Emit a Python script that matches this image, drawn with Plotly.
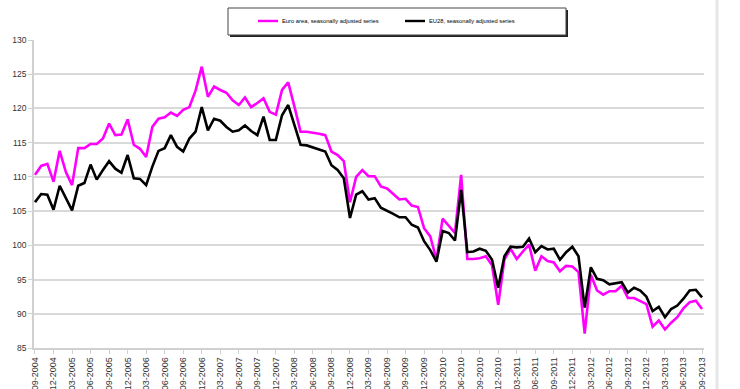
import plotly.graph_objects as go

# ---- data ----
months = [f"{m:02d}-{y}" for y in range(2004, 2014) for m in range(1, 13)]
months = months[months.index("09-2004"):months.index("09-2013") + 1]

tick_labels = [
    "09-2004", "12-2004", "03-2005", "06-2005", "09-2005", "12-2005",
    "03-2006", "06-2006", "09-2006", "12-2006", "03-2007", "06-2007",
    "09-2007", "12-2007", "03-2008", "06-2008", "09-2008", "12-2008",
    "03-2009", "06-2009", "09-2009", "12-2009", "03-2010", "06-2010",
    "09-2010", "12-2010", "03-2011", "06-2011", "09-2011", "12-2011",
    "03-2012", "06-2012", "09-2012", "12-2012", "03-2013", "06-2013",
    "09-2013",
]

euro_area = [
    110.3, 111.6, 111.9, 109.3, 113.8, 110.7, 108.8, 114.2, 114.2, 114.8,
    114.8, 115.6, 117.8, 116.1, 116.2, 118.4, 114.7, 114.1, 112.9, 117.3,
    118.5, 118.7, 119.4, 118.9, 119.8, 120.2, 122.6, 126.1,
    121.7, 123.2, 122.7, 122.3, 121.2, 120.5, 121.6, 120.2, 120.8, 121.5,
    119.5, 119.1, 122.7, 123.8, 120.3, 116.6, 116.6, 116.5, 116.3, 116.1,
    113.7, 113.2, 112.3, 106.3, 110.0, 111.0, 110.1, 110.1,
    108.6, 108.3, 107.5, 106.7, 106.8, 105.8, 105.6, 102.5, 101.3, 97.9,
    103.9, 102.8, 101.8, 110.3, 98.0, 98.0, 98.1, 98.4, 97.1, 91.3,
    97.9, 99.5, 98.0, 99.1, 100.1, 96.3, 98.4,
    97.7, 97.5, 96.2, 97.0, 96.9, 96.1, 87.1, 95.7, 93.4, 92.8,
    93.3, 93.3, 94.1, 92.3, 92.3, 91.9, 91.4, 88.1, 89.0, 87.7,
    88.7, 89.5, 90.8, 91.7, 91.9, 90.7,
]

eu28 = [
    106.3, 107.5, 107.4, 105.2, 108.7, 106.8, 105.1, 108.7, 109.1, 111.8,
    109.6, 111.0, 112.3, 111.2, 110.6, 113.2, 109.8, 109.7, 108.8, 111.5,
    113.8, 114.2, 116.1, 114.4, 113.7, 115.6, 116.6, 120.2,
    116.8, 118.5, 118.2, 117.3, 116.6, 116.8, 117.5, 116.7, 116.1, 118.8,
    115.4, 115.4, 119.0, 120.5, 117.6, 114.7, 114.6, 114.3, 113.9, 113.7,
    111.7, 111.0, 109.8, 104.0, 107.4, 107.9, 106.7, 106.9,
    105.5, 105.1, 104.6, 104.1, 104.1, 103.0, 102.6, 100.6, 99.3, 97.6,
    102.1, 101.8, 100.7, 108.1, 99.0, 99.1, 99.5, 99.2, 97.9, 93.8,
    98.4, 99.8, 99.7, 99.8, 101.0, 99.0, 99.9,
    99.4, 99.5, 97.9, 99.0, 99.8, 98.4, 90.9, 96.8, 95.1, 94.9,
    94.3, 94.4, 94.6, 93.1, 93.8, 93.4, 92.5, 90.4, 91.0, 89.5,
    90.7, 91.2, 92.2, 93.4, 93.5, 92.4,
]

series_names = ["Euro area, seasonally adjusted series", "EU28, seasonally adjusted series"]
y_ticks = [85, 90, 95, 100, 105, 110, 115, 120, 125, 130]

# ---- layout geometry (pixels) ----
W, H = 740, 389
L, R, T, B = 34, 36, 40, 41
PW, PH = W - L - R, H - T - B


def px(xp):
    return (xp - L) / PW


def py(yp):
    return (H - B - yp) / PH


fig = go.Figure()
fig.add_trace(go.Scatter(x=months, y=euro_area, mode="lines", name=series_names[0],
                         line=dict(color="#FF00FF", width=2.6), showlegend=False))
fig.add_trace(go.Scatter(x=months, y=eu28, mode="lines", name=series_names[1],
                         line=dict(color="#000000", width=2.6), showlegend=False))

font_family = "Liberation Sans, Arial, sans-serif"

fig.update_layout(
    width=W, height=H,
    margin=dict(l=L, r=R, t=T, b=B, pad=0, autoexpand=False),
    paper_bgcolor="white", plot_bgcolor="white",
    font=dict(family=font_family, color="#333333"),
    xaxis=dict(
        type="category", automargin=False,
        range=[-0.16, len(months) - 1 + 0.32],
        tickmode="array", tickvals=tick_labels, ticktext=tick_labels,
        tickangle=-90, tickfont=dict(size=9, color="#333333"),
        showgrid=False, showline=True, linecolor="#d0d0d0", linewidth=1.5,
        ticks="outside", ticklen=4, tickcolor="#d0d0d0", tickwidth=1,
        zeroline=False,
    ),
    yaxis=dict(
        automargin=False,
        range=[85, 130], tickmode="array", tickvals=y_ticks,
        tickfont=dict(size=8.5, color="#333333"),
        showgrid=True, gridcolor="#d9d9d9", gridwidth=1.5,
        showline=True, linecolor="#d0d0d0", linewidth=1.5,
        ticks="outside", ticklen=4, tickcolor="#d0d0d0", tickwidth=1,
        zeroline=False,
    ),
)

# outer chart border (right side)
fig.add_shape(type="line", xref="paper", yref="paper",
              x0=px(717), x1=px(717), y0=py(0), y1=py(H),
              line=dict(color="#e6e6e6", width=3))

# legend box with shadow
bx0, bx1, by0, by1 = 228, 566, 8, 35
fig.add_shape(type="rect", xref="paper", yref="paper",
              x0=px(bx0 + 2), x1=px(bx1 + 2), y0=py(by1 + 2), y1=py(by0 + 2),
              fillcolor="#222222", line=dict(width=0), layer="above")
fig.add_shape(type="rect", xref="paper", yref="paper",
              x0=px(bx0), x1=px(bx1), y0=py(by1), y1=py(by0),
              fillcolor="white", line=dict(color="#444444", width=1), layer="above")

ly = 21
fig.add_shape(type="line", xref="paper", yref="paper",
              x0=px(258), x1=px(278), y0=py(ly), y1=py(ly),
              line=dict(color="#FF00FF", width=2.4), layer="above")
fig.add_shape(type="line", xref="paper", yref="paper",
              x0=px(405), x1=px(425), y0=py(ly), y1=py(ly),
              line=dict(color="#000000", width=2.4), layer="above")
fig.add_annotation(xref="paper", yref="paper", x=px(280), y=py(ly),
                   text=series_names[0], showarrow=False, xanchor="left", yanchor="middle",
                   font=dict(size=5.8, color="#000000", family=font_family))
fig.add_annotation(xref="paper", yref="paper", x=px(427), y=py(ly),
                   text=series_names[1], showarrow=False, xanchor="left", yanchor="middle",
                   font=dict(size=5.8, color="#000000", family=font_family))

fig.write_html("out.html",
               config={"displayModeBar": False},
               post_script="document.body.style.margin='0';document.body.style.padding='0';")
